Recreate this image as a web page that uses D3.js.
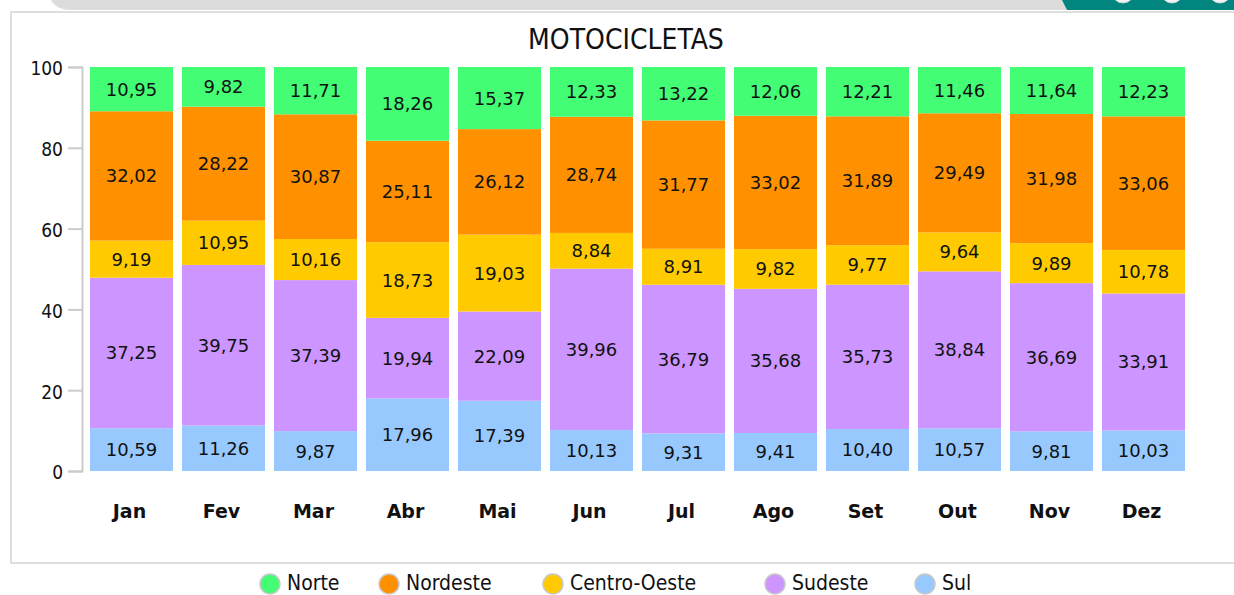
<!DOCTYPE html>
<html>
<head>
<meta charset="utf-8">
<script src="https://cdn.jsdelivr.net/npm/d3@7"></script>
<style>
  html, body { margin: 0; padding: 0; background: #fff; }
  svg { display: block; }
</style>
</head>
<body>
<svg id="chart" width="1234" height="595"></svg>
<script>
// Monthly share (%) of motorcycles by region
const months = ["Jan", "Fev", "Mar", "Abr", "Mai", "Jun", "Jul", "Ago", "Set", "Out", "Nov", "Dez"];
const norte = [10.95, 9.82, 11.71, 18.26, 15.37, 12.33, 13.22, 12.06, 12.21, 11.46, 11.64, 12.23];
const nordeste = [32.02, 28.22, 30.87, 25.11, 26.12, 28.74, 31.77, 33.02, 31.89, 29.49, 31.98, 33.06];
const centroOeste = [9.19, 10.95, 10.16, 18.73, 19.03, 8.84, 8.91, 9.82, 9.77, 9.64, 9.89, 10.78];
const sudeste = [37.25, 39.75, 37.39, 19.94, 22.09, 39.96, 36.79, 35.68, 35.73, 38.84, 36.69, 33.91];
const sul = [10.59, 11.26, 9.87, 17.96, 17.39, 10.13, 9.31, 9.41, 10.40, 10.57, 9.81, 10.03];
const yTicks = [0, 20, 40, 60, 80, 100];

// stacking order, bottom to top
const seriesNames = ["Sul", "Sudeste", "Centro-Oeste", "Nordeste", "Norte"];
const seriesValues = { "Sul": sul, "Sudeste": sudeste, "Centro-Oeste": centroOeste, "Nordeste": nordeste, "Norte": norte };
const legendOrder = ["Norte", "Nordeste", "Centro-Oeste", "Sudeste", "Sul"];
const colors = {
  "Norte": "#43fd75",
  "Nordeste": "#ff9100",
  "Centro-Oeste": "#ffcb00",
  "Sudeste": "#cc95ff",
  "Sul": "#97c9ff"
};

const rows = months.map((m, i) => {
  const r = { month: m };
  seriesNames.forEach(s => r[s] = seriesValues[s][i]);
  return r;
});
const stacked = d3.stack().keys(seriesNames)(rows);

const svg = d3.select("#chart");

// page chrome above the card
svg.append("path")
  .attr("d", "M51,0 L1066,0 L1066,10 L72,10 Q56,10 51,0 Z")
  .attr("fill", "#dcdcdc");
svg.append("path")
  .attr("d", "M1062,0 L1234,0 L1234,10 L1067,10 Z")
  .attr("fill", "#00857f");
[1123, 1172, 1220].forEach(cx => {
  svg.append("circle").attr("cx", cx).attr("cy", -8).attr("r", 11)
    .attr("fill", "#f4f4f4").attr("stroke", "#cfd8d8").attr("stroke-width", 1);
});

// card
svg.append("rect")
  .attr("x", 11).attr("y", 12).attr("width", 1240).attr("height", 551)
  .attr("fill", "#fff").attr("stroke", "#dedede").attr("stroke-width", 2);

// title
svg.append("text")
  .attr("x", 626).attr("y", 49)
  .attr("text-anchor", "middle")
  .attr("font-family", "DejaVu Sans Condensed, DejaVu Sans, sans-serif")
  .attr("font-size", 28)
  .attr("fill", "#111")
  .text("MOTOCICLETAS");

const x = d3.scaleBand()
  .domain(months)
  .range([85.5, 1189.5])
  .paddingInner(0.098)
  .paddingOuter(0.049);

const y = d3.scaleLinear().domain([0, 100]).range([471, 67]);

// y axis
const yAxis = svg.append("g")
  .attr("transform", "translate(82,0)")
  .call(d3.axisLeft(y).tickValues(yTicks).tickSize(14).tickPadding(5).tickFormat(d3.format("d")));
yAxis.select(".domain").attr("stroke", "#cccccc").attr("stroke-width", 2);
yAxis.selectAll(".tick line").attr("stroke", "#cccccc").attr("stroke-width", 2);
yAxis.selectAll(".tick text")
  .attr("font-family", "DejaVu Sans Condensed, DejaVu Sans, sans-serif")
  .attr("font-size", 19)
  .attr("fill", "#111")
  .attr("dy", "0.42em");

// stacked bars
const layers = svg.append("g").selectAll("g")
  .data(stacked)
  .join("g")
  .attr("fill", d => colors[d.key]);

layers.selectAll("rect")
  .data(d => d.map(p => ({ key: d.key, p })))
  .join("rect")
  .attr("x", d => x(d.p.data.month))
  .attr("width", x.bandwidth())
  .attr("y", d => y(d.p[1]))
  .attr("height", d => y(d.p[0]) - y(d.p[1]));

// value labels
const fmt = v => v.toFixed(2).replace(".", ",");
layers.selectAll("text")
  .data(d => d.map(p => ({ key: d.key, p })))
  .join("text")
  .attr("x", d => x(d.p.data.month) + x.bandwidth() / 2)
  .attr("y", d => (y(d.p[0]) + y(d.p[1])) / 2)
  .attr("dy", "0.36em")
  .attr("text-anchor", "middle")
  .attr("font-family", "DejaVu Sans, sans-serif")
  .attr("font-size", 18)
  .attr("fill", "#111")
  .text(d => fmt(d.p[1] - d.p[0]));

// month labels
svg.append("g").selectAll("text")
  .data(months)
  .join("text")
  .attr("x", d => x(d) + x.bandwidth() / 2 - 2)
  .attr("y", 518)
  .attr("text-anchor", "middle")
  .attr("font-family", "DejaVu Sans, sans-serif")
  .attr("font-weight", "bold")
  .attr("font-size", 19)
  .attr("fill", "#111")
  .text(d => d);

// legend
const legendX = [270, 389, 553, 775, 925];
const legend = svg.append("g").selectAll("g")
  .data(legendOrder)
  .join("g")
  .attr("transform", (d, i) => `translate(${legendX[i]},584)`);
legend.append("circle")
  .attr("r", 10)
  .attr("fill", d => colors[d])
  .attr("stroke", "#c8c8c8")
  .attr("stroke-width", 1.5);
legend.append("text")
  .attr("x", 17)
  .attr("y", 6)
  .attr("font-family", "DejaVu Sans Condensed, DejaVu Sans, sans-serif")
  .attr("font-size", 21)
  .attr("fill", "#111")
  .text(d => d);
</script>
</body>
</html>
